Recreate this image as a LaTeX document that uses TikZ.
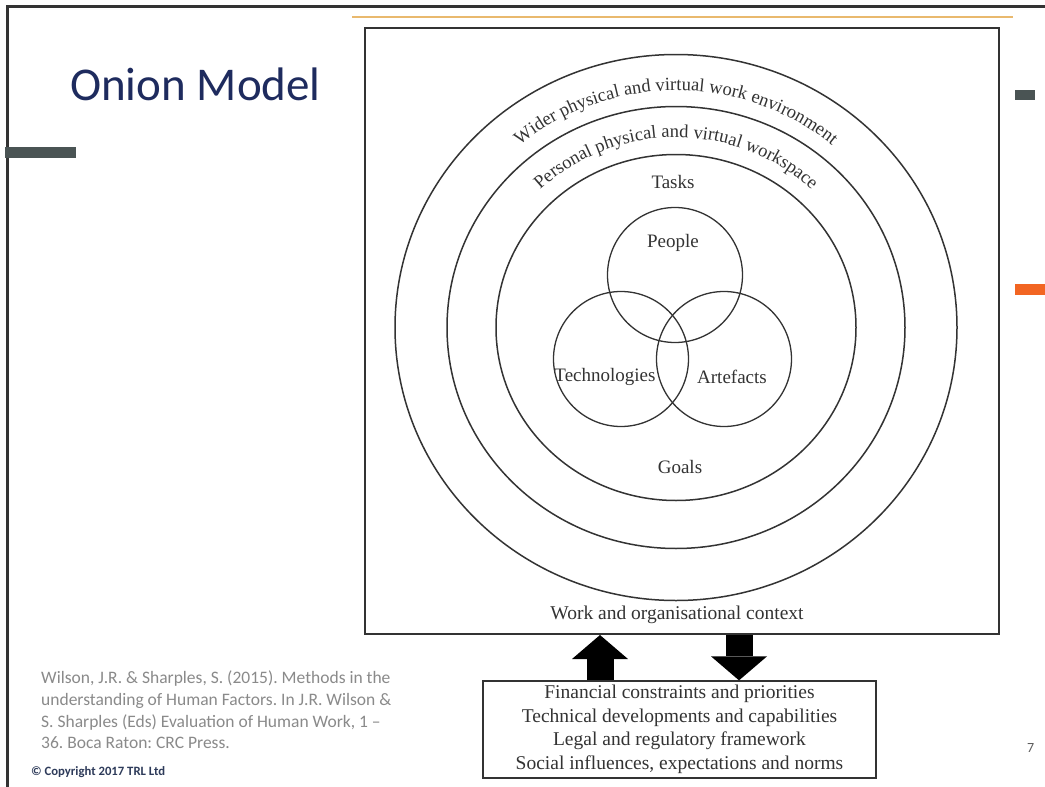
\documentclass[tikz,border=0pt]{standalone}
\usepackage{fontspec}
\newfontfamily\calib{Carlito}
\newfontfamily\diag{Liberation Serif}
\usetikzlibrary{decorations.text,arrows.meta}
\definecolor{navy}{HTML}{1E2B5E}
\definecolor{citegray}{HTML}{8A8A8A}
\definecolor{ink}{HTML}{333333}
\definecolor{orangebar}{HTML}{F26522}
\definecolor{goldline}{HTML}{E9B96E}
\definecolor{bargray}{HTML}{4A5454}
\definecolor{copyblue}{HTML}{2E3B5A}
\frenchspacing
\begin{document}
\begin{tikzpicture}[x=1pt,y=-1pt,
  ring/.style={draw=ink, line width=1.5pt},
  venn/.style={draw=ink, line width=1.3pt, circle, minimum size=135pt, inner sep=0pt},
  lbl/.style={text=ink, inner sep=0pt, font=\diag\fontsize{19}{19}\selectfont},
  cite/.style={text=citegray, inner sep=0pt, anchor=base west, font=\calib\fontsize{17.5}{17.5}\selectfont},
  bigarrow/.style={draw=black, line width=27pt, -{Triangle[width=56pt,length=24pt,line width=0pt]}},
  ringtext/.style={decorate, decoration={text along path, text align=center, text color=ink}}]
\useasboundingbox (0,0) rectangle (1045,787);
\fill[white] (0,0) rectangle (1045,787);
% slide frame
\draw[ink, line width=3pt] (7,787) -- (7,6) -- (1045,6);
\fill[bargray] (5,147) rectangle (76,158);
\fill[bargray] (1015,90) rectangle (1035,100);
\fill[orangebar] (1015,284) rectangle (1045,295);
\draw[goldline, line width=1.2pt] (352,17) -- (1013,17);
% title
\node[anchor=base west, text=navy, inner sep=0pt, font=\calib\fontsize{47}{47}\selectfont] (title) at (70,100) {Onion Model};
% main box
\node[draw=ink, line width=2pt, minimum width=634pt, minimum height=606pt, anchor=north west, inner sep=0pt] (ctx) at (364,27) {};
% rings
\draw[ring] (676,327.5) ellipse [x radius=281, y radius=273];
\draw[ring] (676,327.5) ellipse [x radius=229, y radius=221];
\draw[ring] (676,327.5) ellipse [x radius=180, y radius=173];
% ring texts
\path[ringtext, decoration={text={|\diag\fontsize{18.5}{18.5}\selectfont|Wider physical and virtual work environment}}]
  ([shift={(200:244 and 237)}]676,327.5) arc[start angle=200, end angle=340, x radius=244, y radius=237];
\path[ringtext, decoration={text={|\diag\fontsize{18.5}{18.5}\selectfont|Personal physical and virtual workspace}}]
  ([shift={(200:197 and 190)}]676,327.5) arc[start angle=200, end angle=340, x radius=197, y radius=190];
% venn
\node[venn] (people) at (675,275) {};
\node[venn] (tech) at (621,359) {};
\node[venn] (arte) at (724,359) {};
\node[lbl] (tasks) at (673,182) {Tasks};
\node[lbl] (peoplel) at (673,243) {People};
\node[lbl] (techl) at (605,377) {Technologies};
\node[lbl] (artel) at (732,377) {Artefacts};
\node[lbl] (goals) at (680,467) {Goals};
\node[lbl, font=\diag\fontsize{19.5}{19.5}\selectfont] (work) at (677,615) {Work and organisational context};
% bottom box
\node[draw=ink, line width=1.3pt, minimum width=393pt, minimum height=97pt, inner sep=0pt, align=center,
  text=ink, font=\diag\fontsize{19.5}{23.5}\selectfont] (ext) at (679.5,729.5)
  {Financial constraints and priorities\\Technical developments and capabilities\\Legal and regulatory framework\\Social influences, expectations and norms};
\coordinate (upx) at (600,0);
\coordinate (dnx) at (739,0);
\draw[bigarrow] (ext.north -| upx) -- (ctx.south -| upx);
\draw[bigarrow] (ctx.south -| dnx) -- (ext.north -| dnx);
% citation
\node[cite] (c1) at (41,683) {Wilson, J.R. \& Sharples, S. (2015). Methods in the};
\node[cite] (c2) at (41,705) {understanding of Human Factors. In J.R. Wilson \&};
\node[cite] (c3) at (41,727) {S. Sharples (Eds) Evaluation of Human Work, 1 –};
\node[cite] (c4) at (41,748) {36. Boca Raton: CRC Press.};
\node[anchor=base west, inner sep=0pt, text=copyblue, font=\calib\bfseries\fontsize{12.7}{12.7}\selectfont] (copy) at (31,775) {© Copyright 2017 TRL Ltd};
\node[anchor=base west, inner sep=0pt, text=ink!80, font=\calib\fontsize{14}{14}\selectfont] (pg) at (1027,752) {7};
\end{tikzpicture}
\end{document}
